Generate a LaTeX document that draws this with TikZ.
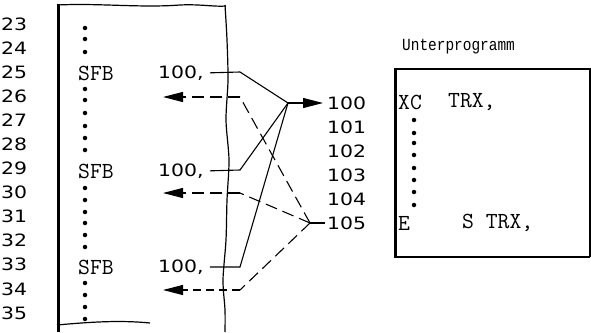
\documentclass[tikz,border=0pt]{standalone}
\usepackage{fontspec}
\usepackage{graphicx}
\usetikzlibrary{arrows.meta}
\newfontfamily\numfont{DejaVu Sans}
\newfontfamily\labfont{Liberation Mono}
\newcommand\nf[1]{\scalebox{1.2}[1]{\numfont\fontsize{17}{17}\selectfont #1}}
\begin{document}
\begin{tikzpicture}[x=1pt,y=-1pt,
  txt/.style={inner sep=0pt,anchor=west},
  code/.style={txt,font=\ttfamily\fontsize{23}{23}\selectfont},
  conn/.style={line width=1.1pt},
  dconn/.style={line width=1.1pt,dash pattern=on 12pt off 6pt},
  tip/.style={-{Triangle[length=20pt,width=10pt]}},
  dot/.style={circle,fill,inner sep=0pt,minimum size=4.5pt}]
\useasboundingbox (0,0) rectangle (591,332);
% line numbers
\foreach \k [count=\i from 0] in {23,...,35}{
  \node[txt] (n\k) at (1,{24+24.08*\i}) {\nf{\k}};
}
% left box borders
\draw[line width=3pt] (58,4) -- (58,332);
\draw[line width=1.2pt] (57,5) .. controls (100,3) and (140,8) .. (180,5) .. controls (200,4) and (215,7) .. (226,6);
\draw[line width=1.2pt] plot[smooth] coordinates {(225,5) (227,40) (228,80) (226,120) (229,160) (227,200) (226,240) (223,280) (225,310) (225,332)};
\draw[line width=1.2pt] (57,325) .. controls (90,322) and (120,320) .. (150,323);
% dots in left box
\foreach \y in {28,39,52,89,100,113,126,138,150,188,200,212,223,235,247,283,295,307,319}{
  \node[dot] at (85,\y) {};
}
% SFB statements
\node[code] (f25) at (78,73) {SFB};
\node[code] (f29) at (78,171) {SFB};
\node[code] (f33) at (78,267) {SFB};
\node[txt] (s25) at (158,73) {\nf{100,}};
\node[txt] (s29) at (158,171) {\nf{100,}};
\node[txt] (s33) at (158,267) {\nf{100,}};
% target labels
\node[txt] (l100) at (327,103) {\nf{100}};
\node[txt] (l101) at (327,127) {\nf{101}};
\node[txt] (l102) at (327,151) {\nf{102}};
\node[txt] (l103) at (327,175) {\nf{103}};
\node[txt] (l104) at (327,199) {\nf{104}};
\node[txt] (l105) at (327,223) {\nf{105}};
% coordinates
\coordinate (j100) at (288,103);
\coordinate (j105) at (310,223);
\coordinate (b25) at (240,72);
\coordinate (b29) at (240,170);
\coordinate (b33) at (240,267);
\coordinate (b26) at (240,97);
\coordinate (b30) at (240,193);
\coordinate (b34) at (240,290);
\coordinate (a26) at (163,97);
\coordinate (a30) at (163,193);
\coordinate (a34) at (163,290);
% solid connectors
\draw[conn,shorten <=6pt] (s25.east) -- (b25) -- (j100);
\draw[conn,shorten <=6pt] (s29.east) -- (b29) -- (j100);
\draw[conn,shorten <=6pt] (s33.east) -- (b33) -- (j100);
\draw[conn,tip,shorten >=4pt] (j100) -- (l100.west);
% dashed connectors
\draw[dconn] (j105) -- (b26);
\draw[dconn] (j105) -- (b30);
\draw[dconn] (j105) -- (b34);
\draw[dconn,tip] (b26) -- (a26);
\draw[dconn,tip] (b30) -- (a30);
\draw[dconn,tip,dash pattern=on 8pt off 5pt] (b34) -- (a34);
\draw[conn,shorten >=2pt] (j105) -- (l105.west);
% subroutine box
\node[txt] (title) at (402,47) {\scalebox{0.85}[1]{\labfont\fontsize{17}{17}\selectfont Unterprogramm}};
\draw[line width=1.2pt] (395,69) -- (590,69) -- (590,257);
\draw[line width=2pt] (395,257) -- (590,257);
\draw[line width=3pt] (395,68) -- (395,258);
\node[code] (xc) at (398,102) {XC};
\node[code] (trx1) at (448,102) {TRX,};
\foreach \y in {120,133,143,155,168,180,192,205}{
  \node[dot] at (414,\y) {};
}
\node[code] (e) at (398,223) {E};
\node[code] (trx2) at (462,223) {S TRX,};
\end{tikzpicture}
\end{document}
